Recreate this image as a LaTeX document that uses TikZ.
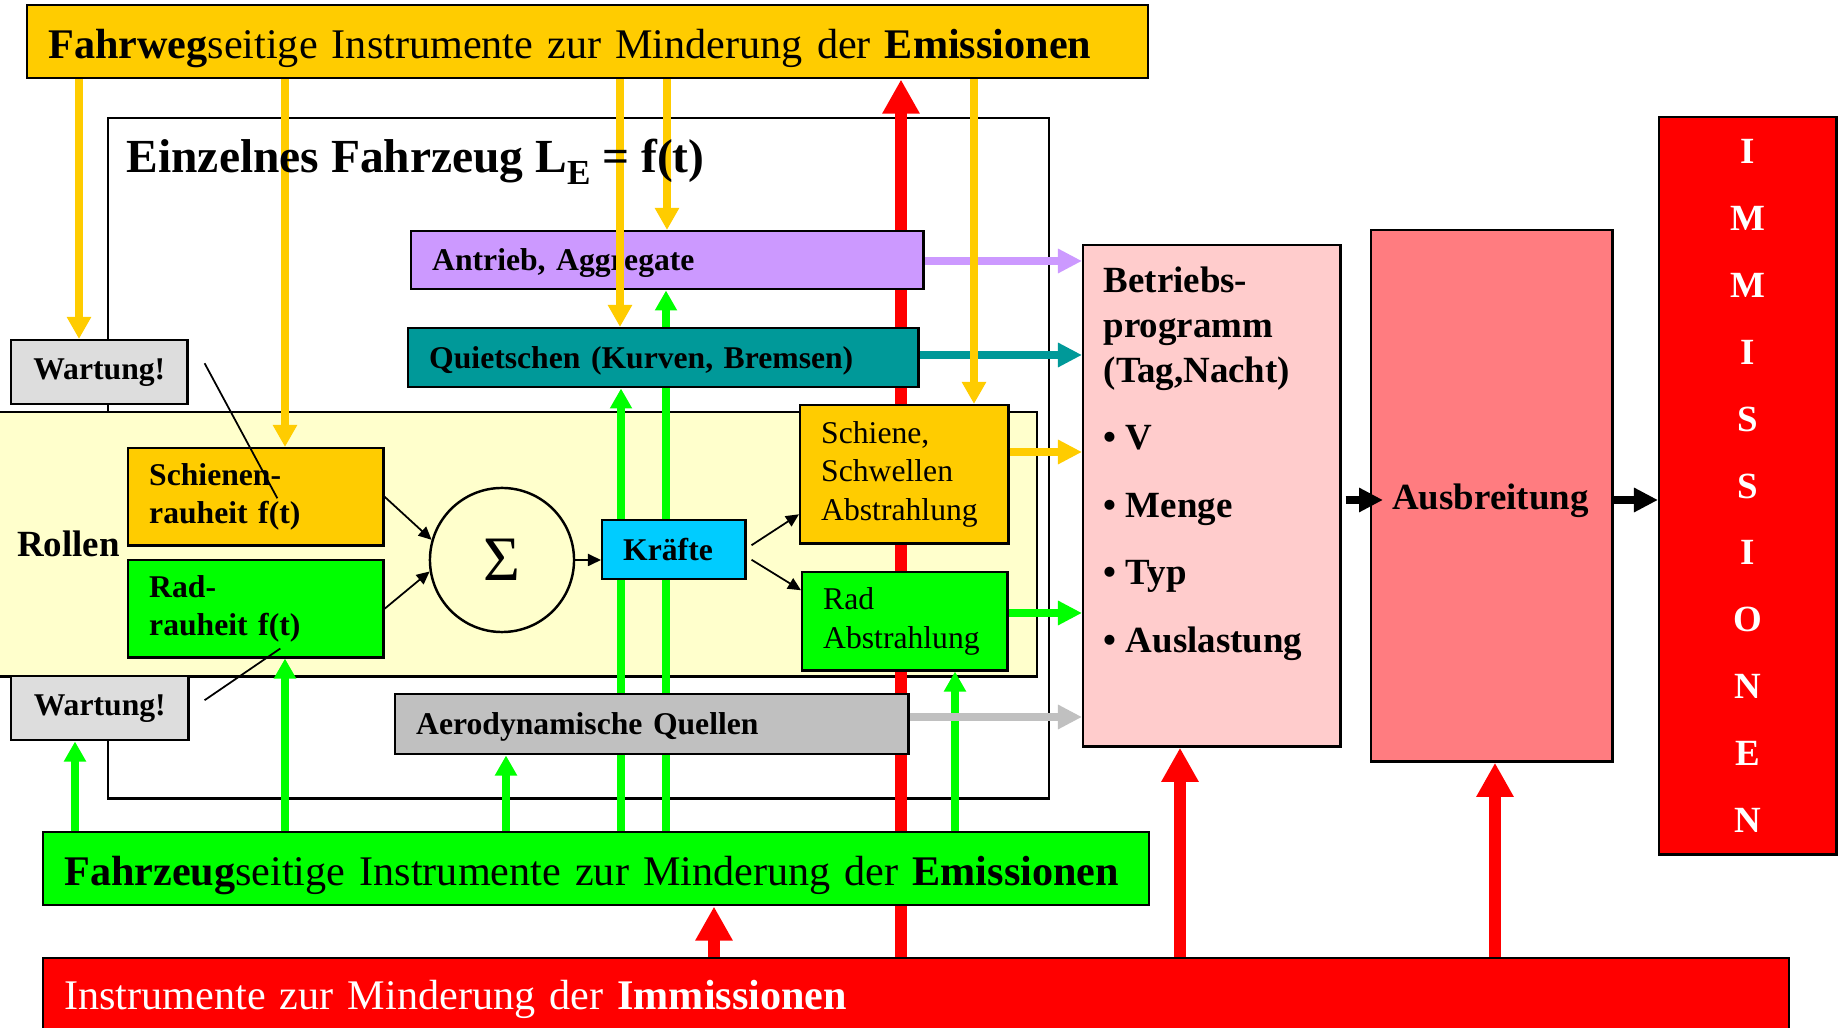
\documentclass[tikz,border=0pt]{standalone}
\usepackage{fontspec}
\setmainfont{Liberation Serif}
\usetikzlibrary{positioning,arrows.meta}

\definecolor{wegyellow}{RGB}{255,204,0}
\definecolor{antriebviolet}{RGB}{204,153,255}
\definecolor{quietschteal}{RGB}{0,153,153}
\definecolor{zeuggreen}{RGB}{0,255,0}
\definecolor{kraftcyan}{RGB}{0,204,255}
\definecolor{aerogray}{RGB}{192,192,192}
\definecolor{wartgray}{RGB}{221,221,221}
\definecolor{rollcream}{RGB}{255,255,204}
\definecolor{betriebpink}{RGB}{255,204,204}
\definecolor{ausbrsalmon}{RGB}{255,124,128}
\definecolor{immred}{RGB}{255,0,0}

\pgfdeclarelayer{background}
\pgfdeclarelayer{links}
\pgfsetlayers{background,links,main}

\tikzset{
  box/.style={draw=black, line width=0.7pt, anchor=north west, inner xsep=0.21cm,
    inner ysep=0pt, align=left, font=\fontsize{9}{10.7}\selectfont\bfseries},
  thinbox/.style={box, font=\fontsize{9}{11}\selectfont},
  bigbox/.style={box, text height=12pt, font=\fontsize{12}{14}\selectfont},
  wegline/.style={wegyellow, line width=2pt, -{Triangle[length=0.22cm,width=0.23cm]}},
  zeugline/.style={zeuggreen, line width=2pt, -{Triangle[length=0.20cm,width=0.21cm]}},
  immline/.style={immred, line width=3.2pt, -{Triangle[length=0.34cm,width=0.35cm]}},
  flow/.style={line width=2.3pt, -{Triangle[length=0.24cm,width=0.23cm]}},
  sumline/.style={black, line width=0.5pt, -{Triangle[length=0.13cm,width=0.12cm]}},
  hint/.style={black, line width=0.5pt}
}

\begin{document}
\begin{tikzpicture}[x=0.01cm, y=-0.01cm]
  \useasboundingbox (0,0) rectangle (1838,1028);

  %--- Vehicle frame and rolling band
  \begin{pgfonlayer}{background}
    \node[draw, line width=0.7pt, anchor=north west, minimum width=9.40cm,
          minimum height=6.80cm, inner sep=0pt, fill=white] (fzg) at (107,117) {};
    \node[box, fill=rollcream, text width=9.98cm, minimum height=2.64cm,
          font=\fontsize{10.5}{12}\selectfont\bfseries] (rollen) at (-5,411) {Rollen};
  \end{pgfonlayer}

  %--- Instrument bars
  \node[bigbox, fill=wegyellow, text width=10.78cm, minimum height=0.73cm] (wegbox) at (26,4)
    {\textbf{Fahrweg}seitige Instrumente zur Minderung der \textbf{Emissionen}};
  \node[bigbox, fill=zeuggreen, text width=10.63cm, minimum height=0.73cm] (zeugbox) at (42,831)
    {\textbf{Fahrzeug}seitige Instrumente zur Minderung der \textbf{Emissionen}};
  \node[bigbox, fill=immred, text=white, text height=10pt, text width=17.03cm, minimum height=0.76cm] (immtools) at (42,957)
    {Instrumente zur Minderung der \textbf{Immissionen}};

  %--- Sources
  \node[box, fill=antriebviolet, text height=7.8pt, text width=4.70cm, minimum height=0.58cm] (antrieb) at (410,230) {Antrieb, Aggregate};
  \node[box, fill=quietschteal, text height=7.8pt, text width=4.68cm, minimum height=0.59cm] (quietschen) at (407,327) {Quietschen (Kurven, Bremsen)};
  \node[box, fill=aerogray, text height=7.8pt, text width=4.71cm, minimum height=0.60cm] (aero) at (394,693) {Aerodynamische Quellen};
  \node[box, fill=wartgray, inner xsep=0.05cm, text width=1.66cm, minimum height=0.64cm, align=center] (wartung1) at (10,339) {Wartung!};
  \node[box, fill=wartgray, inner xsep=0.05cm, text width=1.67cm, minimum height=0.64cm, align=center] (wartung2) at (10,675) {Wartung!};
  \node[box, fill=wegyellow, text width=2.13cm, minimum height=0.97cm] (schienen) at (127,447) {Schienen-\\rauheit f(t)};
  \node[box, fill=zeuggreen, text width=2.13cm, minimum height=0.97cm] (radr) at (127,559) {Rad-\\rauheit f(t)};
  \node[circle, draw, line width=0.7pt, minimum size=1.44cm, inner sep=0pt, fill=rollcream,
        font=\fontsize{18}{18}\selectfont] (sigma) at (502,560) {Σ\hspace{0.38cm}};
  \node[box, fill=kraftcyan, text width=1.01cm, minimum height=0.59cm] (kraefte) at (601,519) {Kräfte};
  \node[thinbox, fill=wegyellow, text width=1.66cm, minimum height=1.38cm] (schiene) at (799,404) {Schiene,\\Schwellen\\Abstrahlung};
  \node[thinbox, fill=zeuggreen, text width=1.63cm, minimum height=0.98cm] (radab) at (801,571) {Rad\\Abstrahlung};

  %--- Operation, propagation, immission
  \node[box, fill=betriebpink, minimum width=2.57cm, minimum height=5.01cm] (betrieb) at (1082,244) {};
  \node[anchor=north west, inner sep=0pt, align=left, font=\fontsize{10.5}{12.8}\selectfont\bfseries]
    (betriebtext) at ([xshift=0.21cm,yshift=-0.22cm]betrieb.north west)
    {Betriebs-\\programm\\(Tag,Nacht)\\[6.4pt]• V\\[6.4pt]• Menge\\[6.4pt]• Typ\\[6.4pt]• Auslastung};
  \node[box, fill=ausbrsalmon, text width=1.99cm, minimum height=5.31cm, text height=10pt,
        font=\fontsize{10.5}{12}\selectfont\bfseries] (ausbr) at (1370,229) {Ausbreitung};
  \node[box, fill=immred, text=white, text width=1.35cm, minimum height=7.37cm, align=center,
        font=\fontsize{10.5}{19}\selectfont\bfseries] (immissionen) at (1658,116) {I\\M\\M\\I\\S\\S\\I\\O\\N\\E\\N};

  %--- Red and green instrument lines (behind the boxes)
  \begin{pgfonlayer}{links}
    \draw[immline] (immtools.north -| 901,0) -- (wegbox.south -| 901,0);
    \draw[immline] (immtools.north -| 714,0) -- (zeugbox.south -| 714,0);
    \draw[immline] (immtools.north -| 1180,0) -- (betrieb.south -| 1180,0);
    \draw[immline] (immtools.north -| 1495,0) -- (ausbr.south -| 1495,0);
    \foreach \gx/\gz in {75/wartung2, 285/radr, 506/aero, 621/quietschen, 666/antrieb, 955/radab}
      \draw[zeugline] (zeugbox.north -| \gx,0) -- (\gz.south -| \gx,0);
  \end{pgfonlayer}

  %--- Emissions into the operating programme
  \draw[flow, antriebviolet] (antrieb.east |- 0,261) -- (betrieb.west |- 0,261);
  \draw[flow, quietschteal] (quietschen.east |- 0,355) -- (betrieb.west |- 0,355);
  \draw[flow, wegyellow] (schiene.east |- 0,452) -- (betrieb.west |- 0,452);
  \draw[flow, zeuggreen] (radab.east |- 0,613) -- (betrieb.west |- 0,613);
  \draw[flow, aerogray] (aero.east |- 0,717) -- (betrieb.west |- 0,717);
  \draw[flow, black, line width=2pt, shorten <=0.04cm, shorten >=-0.13cm]
    (betrieb.east |- 0,500) -- (ausbr.west |- 0,500);
  \draw[flow, black, line width=2pt] (ausbr.east |- 0,500) -- (immissionen.west |- 0,500);

  %--- Track side instruments
  \foreach \yx/\yz in {79/wartung1, 285/schienen, 620/quietschen, 667/antrieb, 974/schiene}
    \draw[wegline] (wegbox.south -| \yx,0) -- (\yz.north -| \yx,0);

  %--- Rolling noise chain
  \draw[sumline] (schienen.east) -- (sigma.164);
  \draw[sumline] (radr.east) -- (sigma.189);
  \draw[sumline] (sigma.east) -- (sigma.east -| kraefte.west);
  \draw[sumline] ([xshift=0.05cm,yshift=0.045cm]kraefte.east) -- ([yshift=-0.40cm]schiene.west);
  \draw[sumline] ([xshift=0.05cm,yshift=-0.10cm]kraefte.east) -- ([yshift=0.31cm]radab.west);
  \draw[hint] ([xshift=0.16cm,yshift=0.09cm]wartung1.east) -- ([xshift=0.215cm,yshift=-0.015cm]schienen.center);
  \draw[hint] ([xshift=0.15cm,yshift=0.08cm]wartung2.east) -- ([xshift=0.245cm,yshift=0.10cm]radr.south);

  %--- Title
  \node[anchor=base west, inner sep=0pt, font=\fontsize{13.5}{16}\selectfont\bfseries] (titel) at (126,173)
    {Einzelnes Fahrzeug L\raisebox{-3.4pt}{\fontsize{10}{10}\selectfont E} = f(t)};
\end{tikzpicture}
\end{document}
